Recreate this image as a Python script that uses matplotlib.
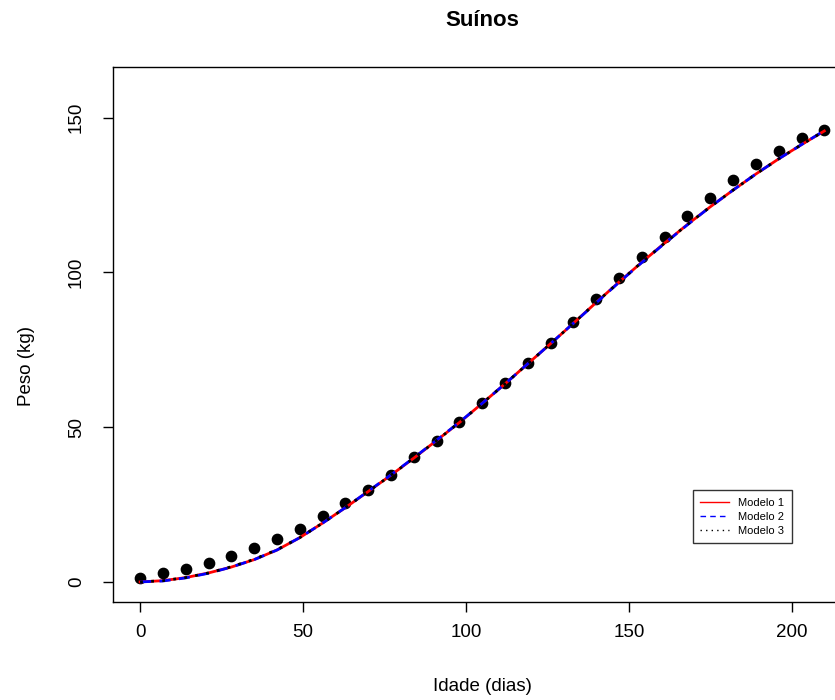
import matplotlib
matplotlib.use("Agg")
import matplotlib.pyplot as plt
from matplotlib.lines import Line2D

plt.rcParams['font.family'] = ['Liberation Sans', 'DejaVu Sans']

# idade (dias) e peso observado
dias = [0, 7, 14, 21, 28, 35, 42, 49, 56, 63, 70, 77, 84, 91, 98, 105,
        112, 119, 126, 133, 140, 147, 154, 161, 168, 175, 182, 189, 196, 203, 210]
peso = [1.4, 2.9, 4.1, 6.1, 8.4, 10.9, 14.0, 17.1, 21.2, 25.5, 29.8, 34.5,
        40.2, 45.6, 51.6, 57.9, 64.2, 70.7, 77.3, 84.1, 91.4, 98.3, 104.9,
        111.6, 118.3, 124.2, 129.9, 135.0, 139.2, 143.3, 146.0]

# curvas ajustadas
modelo1 = [0.0, 0.4, 1.4, 2.9, 4.8, 7.2, 10.3, 14.3, 19.0, 24.0, 29.2, 34.5,
           40.0, 45.7, 51.5, 57.7, 64.0, 70.5, 77.0, 83.6, 90.3, 96.9, 103.3,
           109.5, 115.5, 121.2, 126.6, 131.8, 136.7, 141.3, 145.7]
modelo2 = [0.0, 0.3, 1.3, 2.8, 4.8, 7.2, 10.3, 14.3, 19.0, 24.0, 29.3, 34.6,
           40.1, 45.8, 51.6, 57.7, 64.0, 70.5, 77.0, 83.6, 90.2, 96.8, 103.2,
           109.4, 115.4, 121.2, 126.6, 131.8, 136.7, 141.3, 145.8]
modelo3 = [0.0, 0.4, 1.4, 2.9, 4.9, 7.3, 10.4, 14.3, 19.0, 24.0, 29.2, 34.5,
           40.0, 45.7, 51.5, 57.7, 64.0, 70.5, 77.0, 83.6, 90.3, 96.9, 103.3,
           109.5, 115.5, 121.2, 126.6, 131.8, 136.7, 141.3, 145.7]

xticks = [0, 50, 100, 150, 200]
yticks = [0, 50, 100, 150]

fig = plt.figure(figsize=(8.35, 7), dpi=100)
ax = fig.add_axes([0.135, 0.1404, 0.885, 0.764])

ax.scatter(dias, peso, s=55, color='black', zorder=2)
ax.plot(dias, modelo1, color='red', lw=2, zorder=3)
ax.plot(dias, modelo2, color='blue', lw=2, ls=(0, (4, 3)), zorder=4)
ax.plot(dias, modelo3, color='black', lw=2, ls=(0, (1, 3)), zorder=5)

ax.set_xlim(-8.4, 218.4)
ax.set_ylim(-6.4, 166.4)
ax.set_xticks(xticks)
ax.set_yticks(yticks)
ax.tick_params(axis='both', direction='out', length=7, width=1, labelsize=13.5)
ax.tick_params(axis='x', pad=9)
ax.tick_params(axis='y', pad=13)
for lab in ax.get_yticklabels():
    lab.set_rotation(90)
    lab.set_va('center')
for s in ax.spines.values():
    s.set_linewidth(1)

ax.set_xlabel("Idade (dias)", fontsize=13.5, labelpad=27)
ax.set_ylabel("Peso (kg)", fontsize=13.5)
ax.yaxis.set_label_coords(-0.105, 0.44)
fig.suptitle("Suínos", fontsize=16, fontweight='bold', x=0.577, y=0.985)

handles = [Line2D([], [], color='red', lw=1),
           Line2D([], [], color='blue', lw=1, ls=(0, (4, 3))),
           Line2D([], [], color='black', lw=1, ls=(0, (1, 3)))]
leg = ax.legend(handles, ['Modelo 1', 'Modelo 2', 'Modelo 3'],
                loc='upper left', bbox_to_anchor=(169.6, 29.7),
                bbox_transform=ax.transData, fontsize=8, frameon=True,
                fancybox=False, edgecolor='black', handlelength=2.6,
                handletextpad=0.8, labelspacing=0.35, borderpad=0.7,
                borderaxespad=0)
leg.get_frame().set_linewidth(1)

fig.savefig("out.png", dpi=100)
